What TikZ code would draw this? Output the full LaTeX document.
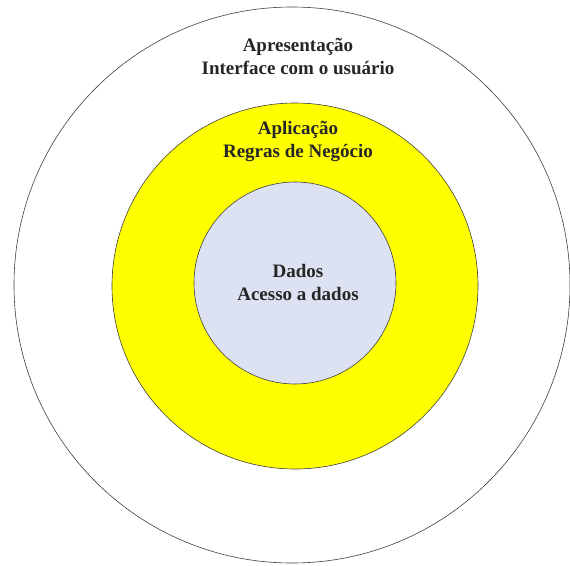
\documentclass[tikz,border=0pt]{standalone}
\usepackage{fontspec}
\setmainfont{Liberation Serif}
\definecolor{camada}{RGB}{255,255,0}
\definecolor{dados}{RGB}{221,226,242}
\begin{document}
\begin{tikzpicture}[x=1pt, y=-1pt, line join=round, line cap=round,
	borda/.style={draw=black!75, line width=0.6pt},
	rotulo/.style={font=\fontsize{19}{23}\selectfont\bfseries, align=center, text=black!85}]
	\useasboundingbox (0,0) rectangle (570,565);
	\path (292,285) coordinate (O);
	\draw[borda, fill=white] (O) circle (278);
	\draw[borda, fill=camada] (O)+(3,1) circle (183);
	\draw[borda, fill=dados] (O)+(3,-2) circle (101);
	\foreach \n/\y/\t in {apres/56/{Apresentação\\Interface com o usuário}, aplic/141/{Aplicação\\Regras de Negócio}, dados/282/{Dados\\Acesso a dados}}
		\node[rotulo] (\n) at (298,\y) {\t};
\end{tikzpicture}
\end{document}
